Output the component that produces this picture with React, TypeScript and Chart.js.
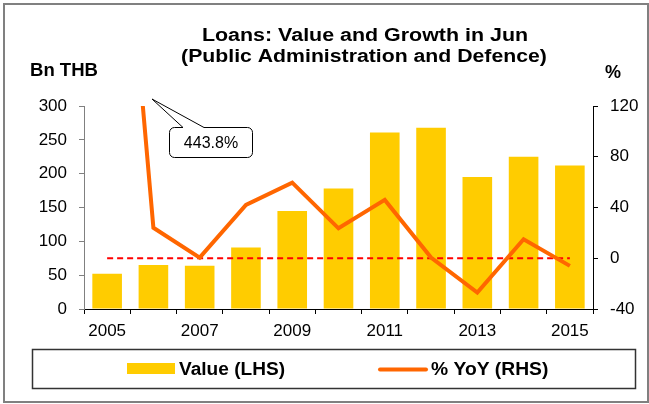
import React, { useEffect, useRef } from "react";
import { Chart, registerables } from "chart.js";

Chart.register(...registerables);

const years = ["2005", "2006", "2007", "2008", "2009", "2010", "2011", "2012", "2013", "2014", "2015"];
const valueLHS = [52, 65, 64, 91, 145, 178, 261, 268, 195, 225, 212];
const yoyRHS = [443.8, 24, 0.5, 42, 59.6, 23.6, 46, 0.5, -27, 15, -6];
const zeroRef = [0, 0, 0, 0, 0, 0, 0, 0, 0, 0, 0];
const titleLines = ["Loans: Value and Growth in Jun", "(Public Administration and Defence)"];
const leftAxisTitle = "Bn THB";
const rightAxisTitle = "%";
const calloutText = "443.8%";
const seriesLabels = ["Value (LHS)", "% YoY (RHS)"];

const FONT = '"Liberation Sans", Arial, sans-serif';
const BAR_COLOR = "#FFCC00";
const LINE_COLOR = "#FF6600";

function stretchedText(
  ctx: CanvasRenderingContext2D,
  text: string,
  x: number,
  y: number,
  sx: number,
  align: CanvasTextAlign
) {
  ctx.save();
  ctx.translate(x, y);
  ctx.scale(sx, 1);
  ctx.textAlign = align;
  ctx.fillText(text, 0, 0);
  ctx.restore();
}

const decoPlugin = {
  id: "deco",
  afterDatasetsDraw(chart: any) {
    const ctx = chart.ctx as CanvasRenderingContext2D;
    ctx.save();
    // callout box with pointer
    const bx = 169.5, by = 127.5, bw = 83, bh = 30, r = 5;
    const tipX = 152, tipY = 99, p1 = 183, p2 = 204;
    ctx.beginPath();
    ctx.moveTo(bx + r, by);
    ctx.lineTo(p1, by);
    ctx.lineTo(tipX, tipY);
    ctx.lineTo(p2, by);
    ctx.lineTo(bx + bw - r, by);
    ctx.arcTo(bx + bw, by, bx + bw, by + r, r);
    ctx.lineTo(bx + bw, by + bh - r);
    ctx.arcTo(bx + bw, by + bh, bx + bw - r, by + bh, r);
    ctx.lineTo(bx + r, by + bh);
    ctx.arcTo(bx, by + bh, bx, by + bh - r, r);
    ctx.lineTo(bx, by + r);
    ctx.arcTo(bx, by, bx + r, by, r);
    ctx.closePath();
    ctx.fillStyle = "#FFFFFF";
    ctx.fill();
    ctx.strokeStyle = "#000000";
    ctx.lineWidth = 1;
    ctx.stroke();
    ctx.fillStyle = "#000000";
    ctx.font = `16px ${FONT}`;
    ctx.textAlign = "center";
    ctx.textBaseline = "middle";
    ctx.fillText(calloutText, bx + bw / 2, by + bh / 2 + 1);
    ctx.restore();
  },
  afterDraw(chart: any) {
    const ctx = chart.ctx as CanvasRenderingContext2D;
    ctx.save();
    // outer frame
    ctx.strokeStyle = "#808080";
    ctx.lineWidth = 2;
    ctx.strokeRect(4, 4, 644, 398);
    // titles
    ctx.fillStyle = "#000000";
    ctx.font = `bold 18px ${FONT}`;
    ctx.textBaseline = "alphabetic";
    stretchedText(ctx, titleLines[0], 365, 41, 1.19, "center");
    stretchedText(ctx, titleLines[1], 364, 62, 1.18, "center");
    stretchedText(ctx, leftAxisTitle, 30, 76, 1.03, "left");
    stretchedText(ctx, rightAxisTitle, 613, 78, 1.0, "center");
    // legend box
    ctx.lineWidth = 1.5;
    ctx.strokeStyle = "#333333";
    ctx.strokeRect(32.5, 349.5, 603, 39);
    // legend items
    ctx.fillStyle = BAR_COLOR;
    ctx.fillRect(127, 363, 48, 11);
    ctx.strokeStyle = LINE_COLOR;
    ctx.lineWidth = 4;
    ctx.lineCap = "round";
    ctx.beginPath();
    ctx.moveTo(380, 369.5);
    ctx.lineTo(426, 369.5);
    ctx.stroke();
    ctx.fillStyle = "#000000";
    ctx.font = `bold 18px ${FONT}`;
    stretchedText(ctx, seriesLabels[0], 179, 375, 1.06, "left");
    stretchedText(ctx, seriesLabels[1], 431, 375, 1.07, "left");
    ctx.restore();
  },
};

export default function App() {
  const ref = useRef<HTMLCanvasElement | null>(null);

  useEffect(() => {
    document.body.style.margin = "0";
    const canvas = ref.current;
    if (!canvas) return;
    const chart = new Chart(canvas, {
      type: "bar",
      data: {
        labels: years,
        datasets: [
          {
            type: "line",
            label: seriesLabels[1],
            data: yoyRHS,
            yAxisID: "y1",
            borderColor: LINE_COLOR,
            backgroundColor: LINE_COLOR,
            borderWidth: 4,
            pointRadius: 0,
            tension: 0,
            order: 0,
          } as any,
          {
            type: "line",
            label: "zero",
            data: zeroRef,
            yAxisID: "y1",
            borderColor: "#FF0000",
            borderWidth: 2,
            borderDash: [6, 4],
            pointRadius: 0,
            order: 1,
          } as any,
          {
            type: "bar",
            label: seriesLabels[0],
            data: valueLHS,
            yAxisID: "y",
            backgroundColor: BAR_COLOR,
            barPercentage: 0.64,
            categoryPercentage: 1,
            order: 2,
          } as any,
        ],
      },
      options: {
        responsive: false,
        animation: false,
        devicePixelRatio: 1,
        layout: { padding: { top: 106, left: 0, right: 0, bottom: 0 } },
        plugins: {
          legend: { display: false },
          title: { display: false },
          tooltip: { enabled: false },
        },
        scales: {
          x: {
            offset: true,
            grid: {
              offset: true,
              drawOnChartArea: false,
              drawTicks: true,
              tickLength: 5,
              color: "#000000",
            },
            border: { color: "#000000", width: 1 },
            ticks: {
              autoSkip: false,
              maxRotation: 0,
              padding: 7,
              color: "#000000",
              font: { family: FONT, size: 17 },
              callback: (_v: any, i: number) => (i % 2 === 0 ? years[i] : ""),
            },
            afterFit: (s: any) => {
              s.height = 95;
            },
          },
          y: {
            position: "left",
            min: 0,
            max: 300,
            grid: { drawOnChartArea: false, tickLength: 5, color: "#808080" },
            border: { color: "#808080", width: 1 },
            ticks: {
              stepSize: 50,
              padding: 12,
              color: "#000000",
              font: { family: FONT, size: 17 },
            },
            afterFit: (s: any) => {
              s.width = 84;
            },
          },
          y1: {
            position: "right",
            min: -40,
            max: 120,
            grid: { drawOnChartArea: false, tickLength: 5, color: "#000000" },
            border: { color: "#000000", width: 1 },
            ticks: {
              stepSize: 40,
              padding: 12,
              color: "#000000",
              font: { family: FONT, size: 17 },
            },
            afterFit: (s: any) => {
              s.width = 56;
            },
          },
        },
      },
      plugins: [decoPlugin],
    });
    return () => chart.destroy();
  }, []);

  return (
    <div style={{ position: "absolute", left: 0, top: 0, width: 649, height: 404, background: "#FFFFFF" }}>
      <canvas ref={ref} width={649} height={404} style={{ display: "block", width: 649, height: 404 }} />
    </div>
  );
}
